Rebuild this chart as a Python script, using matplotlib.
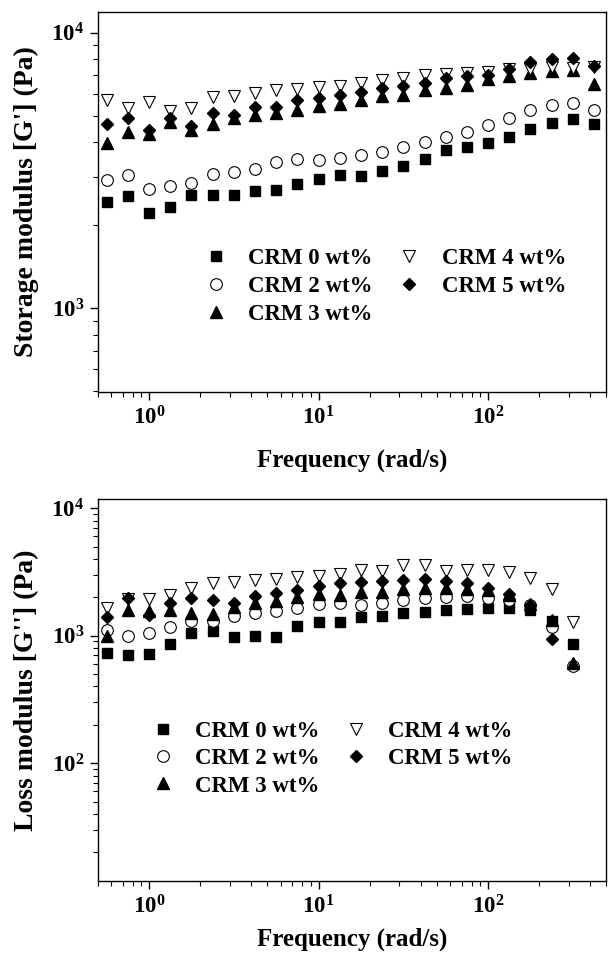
import numpy as np
import matplotlib.pyplot as plt
from matplotlib.ticker import LogLocator, NullFormatter

plt.rcParams['font.family'] = 'Liberation Serif'
plt.rcParams['font.weight'] = 'bold'
plt.rcParams['mathtext.fontset'] = 'custom'
plt.rcParams['mathtext.rm'] = 'Liberation Serif:bold'
plt.rcParams['mathtext.it'] = 'Liberation Serif:bold'
plt.rcParams['mathtext.bf'] = 'Liberation Serif:bold'
plt.rcParams['mathtext.default'] = 'rm'

# angular frequency (rad/s)
freq = [0.562, 0.75, 1.0, 1.33, 1.78, 2.37, 3.16, 4.22, 5.62, 7.5, 10, 13.3,
        17.8, 23.7, 31.6, 42.2, 56.2, 75, 100, 133, 178, 237, 316, 422]
freq_loss = freq[:23]

labels = ['CRM 0 wt%', 'CRM 2 wt%', 'CRM 3 wt%', 'CRM 4 wt%', 'CRM 5 wt%']

# storage modulus G' (Pa)
g1_crm0 = [2427, 2551, 2208, 2334, 2566, 2566, 2581, 2653, 2684, 2829, 2934, 3030,
           3027, 3157, 3283, 3472, 3754, 3859, 3992, 4197, 4467, 4695, 4868, 4656]
g1_crm2 = [2910, 3041, 2698, 2773, 2836, 3057, 3127, 3207, 3399, 3467, 3449, 3510,
           3600, 3684, 3840, 4005, 4197, 4375, 4630, 4897, 5218, 5444, 5550, 5218]
g1_crm3 = [3970, 4375, 4300, 4758, 4440, 4668, 4897, 5033, 5106, 5248, 5429, 5517,
           5706, 5867, 5951, 6207, 6295, 6470, 6788, 6935, 7170, 7290, 7338, 6522]
g1_crm4 = [5674, 5324, 5623, 5206, 5324, 5838, 5900, 6035, 6170, 6240, 6346, 6415,
           6561, 6710, 6860, 7050, 7090, 7170, 7230, 7380, 7400, 7520, 7440, 7520]
g1_crm5 = [4656, 4897, 4440, 4897, 4565, 5106, 5033, 5370, 5370, 5706, 5787, 5951,
           6116, 6295, 6380, 6595, 6842, 6935, 7036, 7379, 7799, 8024, 8090, 7586]

# loss modulus G'' (Pa)
g2_crm0 = [725, 703, 716, 858, 1040, 1091, 979, 991, 968, 1188, 1283, 1283,
           1404, 1422, 1493, 1537, 1585, 1614, 1652, 1652, 1585, 1310, 858]
g2_crm2 = [1104, 991, 1052, 1159, 1300, 1300, 1422, 1493, 1565, 1634, 1757, 1790,
           1734, 1790, 1898, 1958, 2015, 2042, 1958, 1898, 1734, 1159, 577]
g2_crm3 = [1000, 1585, 1550, 1600, 1500, 1470, 1690, 1800, 1870, 2020, 2110, 2100,
           2200, 2210, 2310, 2350, 2350, 2310, 2290, 2080, 1760, 1324, 608]
g2_crm4 = [1656, 1950, 1936, 2082, 2378, 2572, 2651, 2732, 2766, 2867, 2955, 3027,
           3275, 3236, 3584, 3584, 3236, 3275, 3275, 3138, 2815, 2307, 1284]
g2_crm5 = [1389, 1990, 1460, 1790, 1990, 1900, 1790, 2030, 2145, 2300, 2450, 2570,
           2620, 2680, 2745, 2790, 2700, 2585, 2360, 2130, 1740, 935, np.nan]

styles = [dict(marker='s', ms=7.2, mfc='black', mec='black'),
          dict(marker='o', ms=8.4, mfc='white', mec='black', mew=0.8),
          dict(marker='^', ms=8.6, mfc='black', mec='black'),
          dict(marker='v', ms=8.4, mfc='white', mec='black', mew=0.8),
          dict(marker='D', ms=6.4, mfc='black', mec='black')]


def style_axis(ax, ylim, ylabel, xpad):
    ax.set_xscale('log')
    ax.set_yscale('log')
    ax.set_xlim(0.5, 500)
    ax.set_ylim(*ylim)
    ax.xaxis.set_major_locator(LogLocator(base=10))
    ax.xaxis.set_minor_locator(LogLocator(base=10, subs=np.arange(2, 10)))
    ax.yaxis.set_minor_locator(LogLocator(base=10, subs=np.arange(2, 10)))
    ax.xaxis.set_minor_formatter(NullFormatter())
    ax.yaxis.set_minor_formatter(NullFormatter())
    ax.tick_params(which='major', length=6, width=1, direction='out', labelsize=16.5, pad=4)
    ax.tick_params(which='minor', length=3.5, width=0.8, direction='out')
    ax.set_xlabel('Frequency (rad/s)', fontsize=18, fontweight='bold', labelpad=xpad)
    ax.set_ylabel(ylabel, fontsize=20, fontweight='bold', labelpad=9)
    for s in ax.spines.values():
        s.set_linewidth(1.0)


fig = plt.figure(figsize=(6.08, 9.57), dpi=100)

ax1 = fig.add_axes([0.1612, 0.5904, 0.8363, 0.3971])
for y, lab, st in zip([g1_crm0, g1_crm2, g1_crm3, g1_crm4, g1_crm5], labels, styles):
    ax1.plot(freq, y, ls='none', label=lab, **st)
style_axis(ax1, (495, 11900), "Storage modulus [G'] (Pa)", 14)
ax1.legend(ncol=2, frameon=False, loc='upper left', bbox_to_anchor=(0.21, 0.38),
           fontsize=16.5, handlelength=1.0, handletextpad=0.9, columnspacing=1.1,
           labelspacing=0.32, borderpad=0, borderaxespad=0)

ax2 = fig.add_axes([0.1612, 0.0794, 0.8363, 0.3992])
for y, lab, st in zip([g2_crm0, g2_crm2, g2_crm3, g2_crm4, g2_crm5], labels, styles):
    ax2.plot(freq_loss, y, ls='none', label=lab, **st)
style_axis(ax2, (11.9, 11800), "Loss modulus [G''] (Pa)", 7)
ax2.legend(ncol=2, frameon=False, loc='upper left', bbox_to_anchor=(0.105, 0.42),
           fontsize=16.5, handlelength=1.0, handletextpad=0.9, columnspacing=1.1,
           labelspacing=0.28, borderpad=0, borderaxespad=0)

fig.savefig('out.png', dpi=100)
